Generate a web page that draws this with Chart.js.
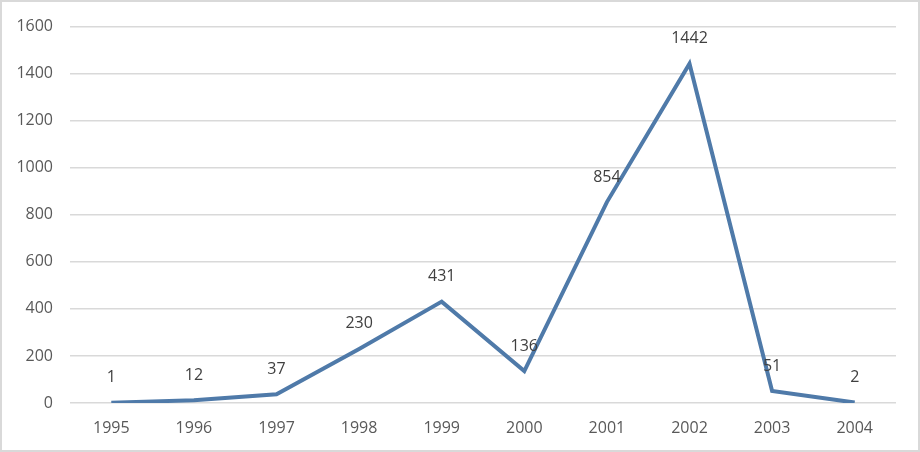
<!DOCTYPE html>
<html>
<head>
<meta charset="utf-8">
<script src="https://cdn.jsdelivr.net/npm/chart.js@4/dist/chart.umd.min.js"></script>
<style>
  html, body { margin: 0; padding: 0; background: #fff; }
  #wrap { width: 920px; height: 452px; }
</style>
</head>
<body>
<div id="wrap"><canvas id="chart" width="920" height="452"></canvas></div>
<script>
const years = ['1995', '1996', '1997', '1998', '1999', '2000', '2001', '2002', '2003', '2004'];
const counts = [1, 12, 37, 230, 431, 136, 854, 1442, 51, 2];
const yTicks = [0, 200, 400, 600, 800, 1000, 1200, 1400, 1600];

const FONT = '"Open Sans", "Noto Sans", sans-serif';

// gray frame round the picture
const framePlugin = {
  id: 'frame',
  afterDraw(chart) {
    const ctx = chart.ctx;
    ctx.save();
    ctx.strokeStyle = '#d9d9d9';
    ctx.lineWidth = 2;
    ctx.strokeRect(1, 1, chart.width - 2, chart.height - 2);
    ctx.restore();
  }
};

// value above each point
const labelPlugin = {
  id: 'valueLabels',
  afterDatasetsDraw(chart) {
    const ctx = chart.ctx;
    const meta = chart.getDatasetMeta(0);
    ctx.save();
    ctx.font = '16px ' + FONT;
    ctx.fillStyle = '#404040';
    ctx.textAlign = 'center';
    ctx.textBaseline = 'middle';
    meta.data.forEach((pt, i) => {
      ctx.fillText(String(counts[i]), pt.x, pt.y - 25);
    });
    ctx.restore();
  }
};

new Chart(document.getElementById('chart'), {
  type: 'line',
  data: {
    labels: years,
    datasets: [{
      data: counts,
      borderColor: '#4f7aa9',
      borderWidth: 4,
      pointRadius: 0,
      tension: 0,
      fill: false
    }]
  },
  options: {
    responsive: false,
    animation: false,
    layout: { padding: { top: 21, right: 24, left: 0, bottom: 0 } },
    plugins: { legend: { display: false }, tooltip: { enabled: false } },
    scales: {
      x: {
        offset: true,
        grid: { display: false },
        border: { display: false },
        ticks: { color: '#595959', font: { family: FONT, size: 16 }, padding: 8, maxRotation: 0 },
        afterFit(s) { s.height = 49; }
      },
      y: {
        min: 0,
        max: 1600,
        afterBuildTicks(s) { s.ticks = yTicks.map(v => ({ value: v })); },
        grid: { color: '#d9d9d9', lineWidth: 1.5, drawTicks: false },
        border: { display: false },
        ticks: {
          color: '#595959',
          font: { family: FONT, size: 16 },
          padding: 17,
          callback: v => String(v)
        },
        afterFit(s) { s.width = 70; }
      }
    }
  },
  plugins: [framePlugin, labelPlugin]
});
</script>
</body>
</html>
